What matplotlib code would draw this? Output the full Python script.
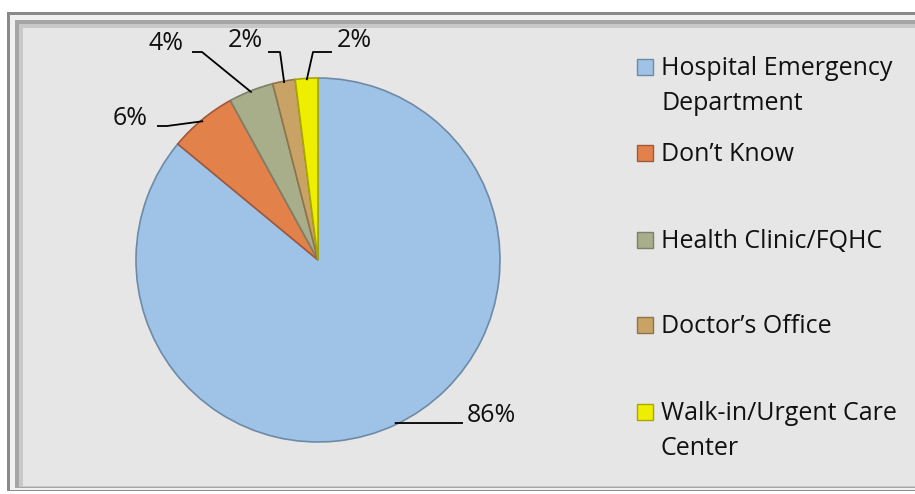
import numpy as np
import matplotlib
matplotlib.use("Agg")
import matplotlib.pyplot as plt
from matplotlib.patches import Rectangle

categories = ["Hospital Emergency\nDepartment", "Don\u2019t Know", "Health Clinic/FQHC",
              "Doctor\u2019s Office", "Walk-in/Urgent Care\nCenter"]
values = [86, 6, 4, 2, 2]
pct_labels = ["86%", "6%", "4%", "2%", "2%"]
colors = ["#9ec3e6", "#e2824a", "#a8ad8a", "#c9a366", "#eeee00"]
edge_colors = ["#6f8aa6", "#a0583a", "#7c806a", "#8f744a", "#a8a800"]

W, H = 915, 494
fig = plt.figure(figsize=(W / 100, H / 100), dpi=100)
fig.patch.set_facecolor("white")
plt.rcParams["font.family"] = ["Open Sans", "DejaVu Sans"]


def frect(x0, y0, x1, y1, color):
    fig.add_artist(Rectangle((x0 / W, 1 - y1 / H), (x1 - x0) / W, (y1 - y0) / H,
                             transform=fig.transFigure, facecolor=color,
                             edgecolor="none", zorder=0))


# bevelled frame
frect(7, 12, 930, 491, "#8a8a8a")
frect(10, 15, 930, 490, "#f0f0f0")
frect(15, 20, 930, 488, "#a5a5a5")
frect(19, 24, 930, 487, "#c8c8c8")
frect(23, 28, 930, 486, "#e6e6e6")

# pie axes
cx, cy, r = 318, 260, 182
ax = fig.add_axes([(cx - r) / W, (H - cy - r) / H, 2 * r / W, 2 * r / H])
ax.set_facecolor("none")
wedges, _ = ax.pie(values, colors=colors, startangle=90, counterclock=False,
                   radius=1.0, wedgeprops=dict(linewidth=1.2))
for w, ec in zip(wedges, edge_colors):
    w.set_edgecolor(ec)
ax.set_xlim(-1, 1)
ax.set_ylim(-1, 1)
ax.set_aspect("auto")
ax.axis("off")


def px(x, y):
    return (x - cx) / r, (cy - y) / r


# label layout: (text x, text y, ha, elbow x, elbow y, line end x)
label_layout = [
    (467, 415, "left", 463, 423, 463),
    (148, 118, "right", 167, 126, 157),
    (183, 43, "right", 202, 52, 192),
    (263, 40, "right", 280, 52, 268),
    (337, 40, "left", 313, 52, 332),
]
for w, lab, (tx, ty, ha, ex, ey, lx) in zip(wedges, pct_labels, label_layout):
    mid = np.deg2rad((w.theta1 + w.theta2) / 2)
    sx, sy = np.cos(mid) * 0.99, np.sin(mid) * 0.99
    exd, eyd = px(ex, ey)
    lxd, _ = px(lx, ey)
    ax.plot([sx, exd, lxd], [sy, eyd, eyd], color="black", lw=1.3,
            clip_on=False, solid_capstyle="butt")
    txd, tyd = px(tx, ty)
    ax.text(txd, tyd, lab, ha=ha, va="center", fontsize=18, color="#111111",
            clip_on=False)

# legend
leg_y = [67, 153, 240, 325, 412]
for lab, col, ec, y in zip(categories, colors, edge_colors, leg_y):
    fig.add_artist(Rectangle((637 / W, 1 - (y + 8) / H), 16 / W, 16 / H,
                             transform=fig.transFigure, facecolor=col,
                             edgecolor=ec, linewidth=1.0, zorder=3))
    fig.text(661 / W, 1 - (y - 11) / H, lab, ha="left", va="top", fontsize=18,
             color="#111111", linespacing=1.55)

fig.savefig("out.png", dpi=100)
